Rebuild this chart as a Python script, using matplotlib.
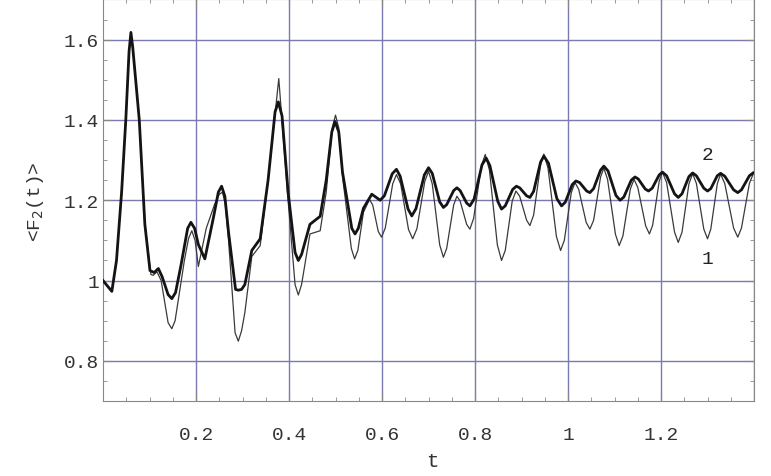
import matplotlib.pyplot as plt
from matplotlib.ticker import MultipleLocator

# curve 1 (thin line)
t1 = [0.0, 0.019, 0.029, 0.040, 0.049, 0.056, 0.060, 0.064, 0.078, 0.090,
      0.103, 0.108, 0.116, 0.125, 0.140, 0.148, 0.155, 0.175, 0.184, 0.191,
      0.198, 0.205, 0.222, 0.240, 0.250, 0.257, 0.263, 0.270, 0.284, 0.291,
      0.298, 0.305, 0.320, 0.338, 0.355, 0.378, 0.398, 0.413, 0.420, 0.427,
      0.445, 0.467, 0.480, 0.493, 0.500, 0.507, 0.515, 0.534, 0.541, 0.548,
      0.560, 0.573, 0.580, 0.592, 0.599, 0.607, 0.623, 0.631, 0.640, 0.657,
      0.666, 0.675, 0.692, 0.700, 0.708, 0.724, 0.732, 0.739, 0.754, 0.761,
      0.768, 0.782, 0.789, 0.797, 0.814, 0.822, 0.831, 0.848, 0.857, 0.865,
      0.880, 0.888, 0.896, 0.911, 0.918, 0.926, 0.941, 0.948, 0.957, 0.975,
      0.984, 0.992, 1.007, 1.015, 1.023, 1.039, 1.047, 1.055, 1.070, 1.077,
      1.085, 1.102, 1.110, 1.118, 1.134, 1.142, 1.150, 1.167, 1.175, 1.182,
      1.196, 1.203, 1.212, 1.229, 1.237, 1.245, 1.260, 1.268, 1.276, 1.292,
      1.300, 1.307, 1.321, 1.328, 1.337, 1.356, 1.365, 1.373, 1.390, 1.398]
y1 = [1.0, 0.973, 1.05, 1.22, 1.40, 1.57, 1.618, 1.58, 1.40, 1.14,
      1.015, 1.013, 1.022, 1.0, 0.895, 0.88, 0.90, 1.05, 1.105, 1.124,
      1.10, 1.035, 1.13, 1.19, 1.215, 1.22, 1.19, 1.10, 0.87, 0.849,
      0.875, 0.92, 1.06, 1.087, 1.25, 1.503, 1.2, 0.99, 0.964, 0.99,
      1.116, 1.124, 1.22, 1.38, 1.412, 1.38, 1.26, 1.08, 1.054, 1.075,
      1.17, 1.202, 1.188, 1.122, 1.108, 1.131, 1.241, 1.264, 1.241, 1.127,
      1.104, 1.129, 1.247, 1.272, 1.241, 1.089, 1.058, 1.080, 1.188, 1.21,
      1.198, 1.140, 1.128, 1.155, 1.287, 1.314, 1.275, 1.089, 1.05, 1.075,
      1.198, 1.223, 1.210, 1.150, 1.137, 1.163, 1.289, 1.315, 1.280, 1.110,
      1.075, 1.100, 1.219, 1.244, 1.227, 1.145, 1.128, 1.150, 1.258, 1.28,
      1.252, 1.115, 1.087, 1.111, 1.228, 1.252, 1.232, 1.136, 1.116, 1.138,
      1.247, 1.27, 1.244, 1.121, 1.095, 1.120, 1.241, 1.266, 1.242, 1.128,
      1.104, 1.128, 1.241, 1.265, 1.242, 1.131, 1.108, 1.131, 1.242, 1.265]

# curve 2 (thick line)
t2 = [0.0, 0.019, 0.029, 0.040, 0.049, 0.056, 0.060, 0.064, 0.078, 0.090,
      0.101, 0.110, 0.119, 0.127, 0.140, 0.148, 0.156, 0.168, 0.182, 0.189,
      0.197, 0.205, 0.219, 0.238, 0.248, 0.255, 0.262, 0.270, 0.285, 0.291,
      0.298, 0.305, 0.320, 0.338, 0.355, 0.370, 0.377, 0.385, 0.398, 0.413,
      0.420, 0.427, 0.445, 0.467, 0.480, 0.492, 0.499, 0.507, 0.515, 0.535,
      0.542, 0.549, 0.560, 0.578, 0.596, 0.605, 0.622, 0.631, 0.639, 0.656,
      0.664, 0.673, 0.691, 0.700, 0.708, 0.724, 0.732, 0.739, 0.754, 0.761,
      0.768, 0.782, 0.789, 0.798, 0.815, 0.824, 0.832, 0.849, 0.857, 0.865,
      0.881, 0.889, 0.896, 0.911, 0.918, 0.926, 0.941, 0.948, 0.958, 0.976,
      0.986, 0.994, 1.009, 1.017, 1.025, 1.040, 1.047, 1.055, 1.070, 1.077,
      1.086, 1.103, 1.112, 1.120, 1.136, 1.144, 1.151, 1.166, 1.173, 1.181,
      1.196, 1.203, 1.212, 1.229, 1.237, 1.245, 1.260, 1.268, 1.276, 1.292,
      1.300, 1.307, 1.321, 1.328, 1.337, 1.356, 1.365, 1.373, 1.390, 1.398]
y2 = [1.0, 0.973, 1.05, 1.22, 1.40, 1.57, 1.618, 1.58, 1.40, 1.14,
      1.025, 1.02, 1.03, 1.01, 0.965, 0.955, 0.97, 1.04, 1.13, 1.145,
      1.13, 1.09, 1.054, 1.16, 1.22, 1.235, 1.21, 1.12, 0.978, 0.976,
      0.978, 0.99, 1.075, 1.104, 1.25, 1.42, 1.445, 1.41, 1.22, 1.07,
      1.05, 1.065, 1.14, 1.16, 1.25, 1.37, 1.396, 1.37, 1.27, 1.13,
      1.116, 1.13, 1.18, 1.215, 1.200, 1.211, 1.266, 1.277, 1.260, 1.178,
      1.161, 1.179, 1.263, 1.281, 1.267, 1.196, 1.182, 1.189, 1.224, 1.231,
      1.224, 1.193, 1.186, 1.203, 1.288, 1.305, 1.286, 1.197, 1.178, 1.186,
      1.227, 1.235, 1.231, 1.211, 1.207, 1.222, 1.295, 1.31, 1.292, 1.204,
      1.186, 1.195, 1.239, 1.248, 1.244, 1.223, 1.219, 1.229, 1.275, 1.285,
      1.273, 1.212, 1.200, 1.208, 1.250, 1.258, 1.253, 1.228, 1.223, 1.230,
      1.263, 1.27, 1.261, 1.216, 1.207, 1.216, 1.259, 1.268, 1.261, 1.230,
      1.223, 1.229, 1.261, 1.267, 1.260, 1.226, 1.219, 1.226, 1.261, 1.268]

xticks = [0.2, 0.4, 0.6, 0.8, 1.0, 1.2]
xticklabels = ['0.2', '0.4', '0.6', '0.8', '1', '1.2']
yticks = [0.8, 1.0, 1.2, 1.4, 1.6]
yticklabels = ['0.8', '1', '1.2', '1.4', '1.6']

plt.rcParams['font.family'] = ['Liberation Mono', 'DejaVu Sans Mono']

fig = plt.figure(figsize=(7.71, 4.77), dpi=100)
ax = fig.add_axes([0.1336, 0.1572, 0.8444, 0.8418])

grid_color = '#7a7ab0'
for x in xticks + [1.4]:
    ax.axvline(x, color=grid_color, lw=1.0, zorder=0)
for y in yticks:
    ax.axhline(y, color=grid_color, lw=1.0, zorder=0)

ax.plot(t1, y1, color='#3a3a3a', lw=0.9, zorder=2)
ax.plot(t2, y2, color='#141414', lw=2.0, zorder=3)

ax.text(1.300, 1.314, '2', fontsize=14, ha='center', va='center', color='#222222')
ax.text(1.300, 1.054, '1', fontsize=14, ha='center', va='center', color='#222222')

ax.set_xlim(0, 1.4)
ax.set_ylim(0.7, 1.7)
ax.set_xticks(xticks)
ax.set_xticklabels(xticklabels)
ax.set_yticks(yticks)
ax.set_yticklabels(yticklabels)
ax.xaxis.set_minor_locator(MultipleLocator(0.05))
ax.yaxis.set_minor_locator(MultipleLocator(0.05))
ax.tick_params(which='both', direction='in', top=True, right=True,
               colors='#888888', labelcolor='#333333', labelsize=14)
ax.tick_params(which='major', length=6, width=0.8)
ax.tick_params(which='minor', length=3, width=0.6)
ax.tick_params(axis='x', which='major', pad=18)
ax.tick_params(axis='y', which='major', pad=3)
for s in ax.spines.values():
    s.set_color('#888888')
    s.set_linewidth(0.8)

fig.text(432 / 771, 1 - 462 / 477, 't', fontsize=15, ha='center', va='center',
         color='#333333')
fig.text(35 / 771, 1 - 202 / 477, '<F$_2$(t)>', fontsize=14, rotation=90,
         ha='center', va='center', color='#333333')

fig.savefig('out.png', dpi=100)
